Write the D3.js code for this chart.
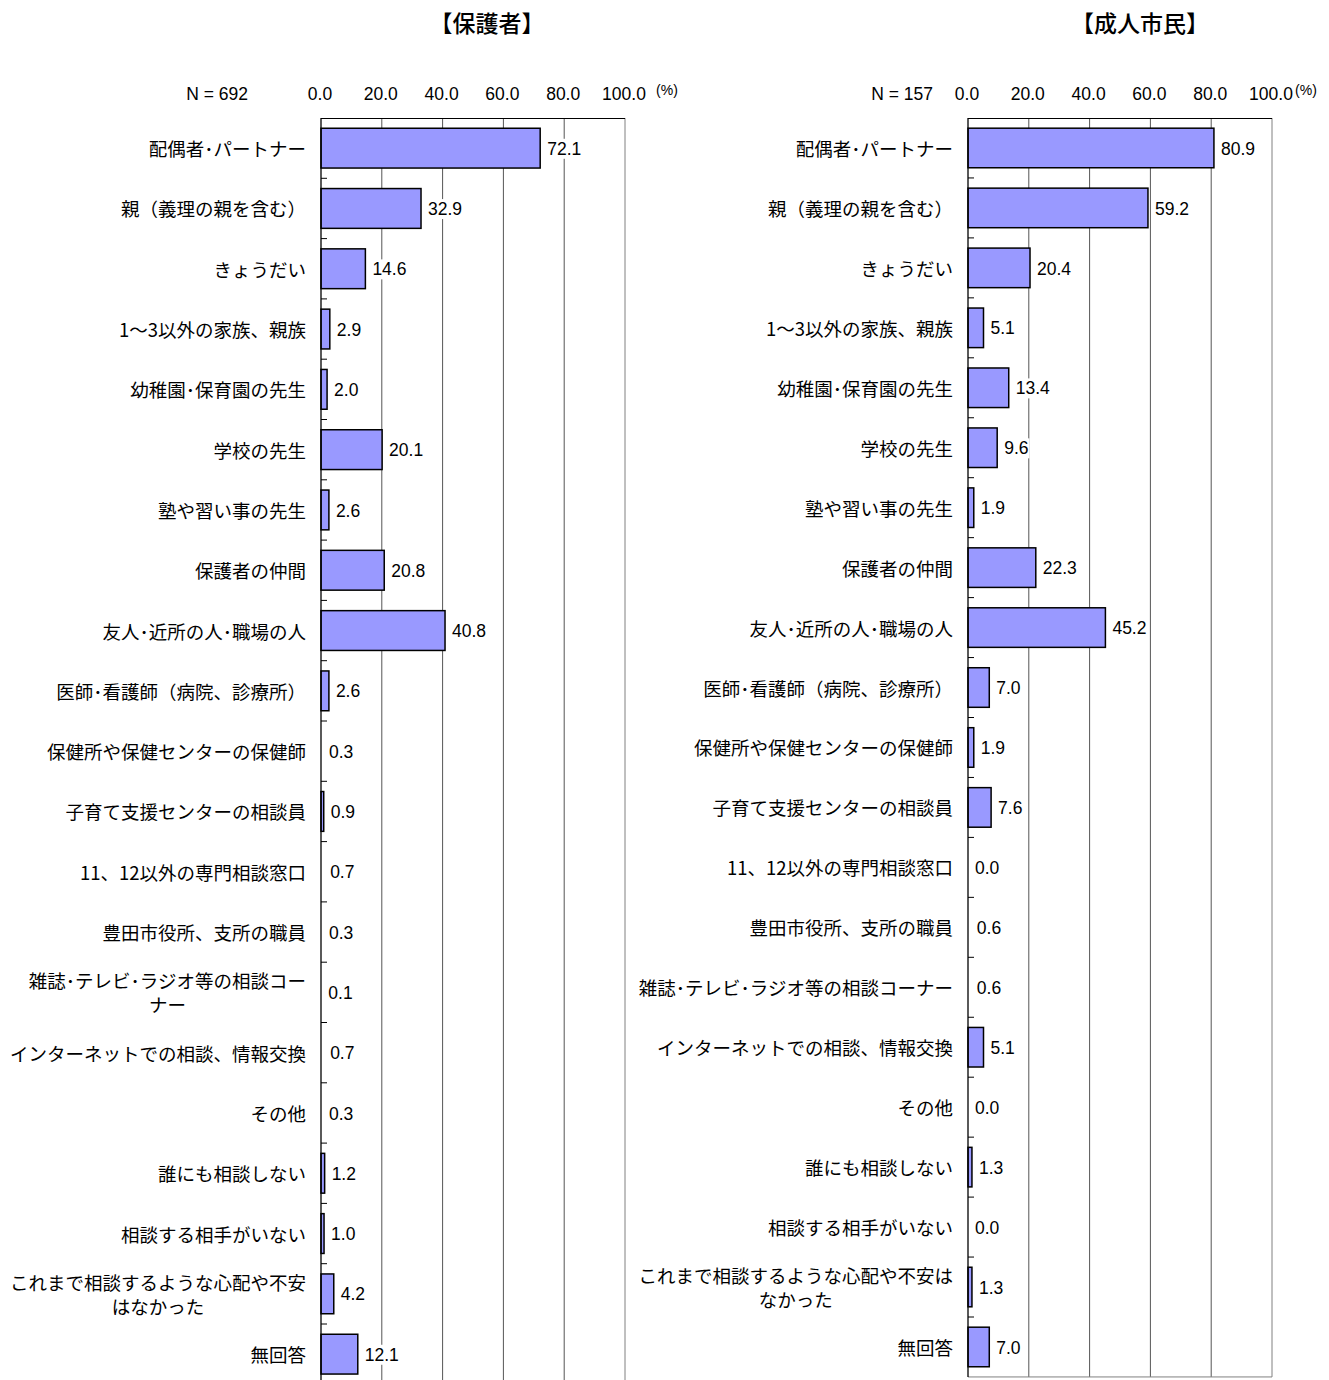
<!DOCTYPE html>
<html><head><meta charset="utf-8">
<script src="https://cdn.jsdelivr.net/npm/d3@7"></script>
<style>body{margin:0;background:#fff}svg{display:block}</style>
</head><body>
<svg id="c" width="1329" height="1380"></svg>
<script>
const categoriesLeft = [
  ["配偶者･パートナー"], ["親（義理の親を含む）"], ["きょうだい"], ["1～3以外の家族、親族"],
  ["幼稚園･保育園の先生"], ["学校の先生"], ["塾や習い事の先生"], ["保護者の仲間"],
  ["友人･近所の人･職場の人"], ["医師･看護師（病院、診療所）"], ["保健所や保健センターの保健師"],
  ["子育て支援センターの相談員"], ["11、12以外の専門相談窓口"], ["豊田市役所、支所の職員"],
  ["雑誌･テレビ･ラジオ等の相談コー", "ナー"], ["インターネットでの相談、情報交換"], ["その他"],
  ["誰にも相談しない"], ["相談する相手がいない"], ["これまで相談するような心配や不安", "はなかった"], ["無回答"]
];
const categoriesRight = [
  ["配偶者･パートナー"], ["親（義理の親を含む）"], ["きょうだい"], ["1～3以外の家族、親族"],
  ["幼稚園･保育園の先生"], ["学校の先生"], ["塾や習い事の先生"], ["保護者の仲間"],
  ["友人･近所の人･職場の人"], ["医師･看護師（病院、診療所）"], ["保健所や保健センターの保健師"],
  ["子育て支援センターの相談員"], ["11、12以外の専門相談窓口"], ["豊田市役所、支所の職員"],
  ["雑誌･テレビ･ラジオ等の相談コーナー"], ["インターネットでの相談、情報交換"], ["その他"],
  ["誰にも相談しない"], ["相談する相手がいない"], ["これまで相談するような心配や不安は", "なかった"], ["無回答"]
];
const valuesGuardian = [72.1, 32.9, 14.6, 2.9, 2.0, 20.1, 2.6, 20.8, 40.8, 2.6, 0.3, 0.9, 0.7, 0.3, 0.1, 0.7, 0.3, 1.2, 1.0, 4.2, 12.1];
const valuesCitizen  = [80.9, 59.2, 20.4, 5.1, 13.4, 9.6, 1.9, 22.3, 45.2, 7.0, 1.9, 7.6, 0.0, 0.6, 0.6, 5.1, 0.0, 1.3, 0.0, 1.3, 7.0];
const tickValues = [0, 20, 40, 60, 80, 100];
const titles = ["【保護者】", "【成人市民】"];
const sampleSizes = ["N = 692", "N = 157"];

const svg = d3.select("#c");
const JP = "'Noto Sans CJK JP','Noto Sans',sans-serif";
const NUM = "'Liberation Sans',Arial,sans-serif";

function panel(cfg) {
  const g = svg.append("g");
  const x = d3.scaleLinear().domain([0, 100]).range([cfg.x0, cfg.x1]);
  const idx = d3.range(cfg.values.length);
  const y = d3.scaleBand().domain(idx).range([118, 118 + cfg.band * idx.length]);
  const top = 118, bottom = 118 + cfg.band * idx.length;

  g.append("text").attr("x", cfg.titleX).attr("y", 26).attr("text-anchor", "middle")
    .attr("dominant-baseline", "middle").attr("font-family", JP).attr("font-size", 23)
    .attr("font-weight", 500).attr("fill", "#000").text(cfg.title);

  g.selectAll("line.grid").data(tickValues.slice(1)).join("line")
    .attr("x1", d => x(d)).attr("x2", d => x(d)).attr("y1", top).attr("y2", bottom)
    .attr("stroke", d => d === 100 ? "#808080" : "#555").attr("stroke-width", 1);
  g.append("line").attr("x1", x(0)).attr("x2", x(100)).attr("y1", top + 0.5).attr("y2", top + 0.5)
    .attr("stroke", "#000").attr("stroke-width", 1.2);
  if (cfg.bottomLine) g.append("line").attr("x1", x(0)).attr("x2", x(100)).attr("y1", bottom).attr("y2", bottom)
    .attr("stroke", "#808080").attr("stroke-width", 1);

  g.selectAll("text.tick").data(tickValues).join("text")
    .attr("x", d => x(d) - 1).attr("y", 95).attr("text-anchor", "middle").attr("dominant-baseline", "middle")
    .attr("font-family", NUM).attr("font-size", 17.5).attr("fill", "#000")
    .text(d => d3.format(".1f")(d));
  g.append("text").attr("x", cfg.pctX).attr("y", 91).attr("text-anchor", "middle").attr("dominant-baseline", "middle")
    .attr("font-family", NUM).attr("font-size", 14).text("(%)");
  g.append("text").attr("x", cfg.nX).attr("y", 95).attr("text-anchor", "end").attr("dominant-baseline", "middle")
    .attr("font-family", NUM).attr("font-size", 17.5).text(cfg.n);

  const bh = cfg.band * 0.66;
  g.selectAll("rect.bar").data(cfg.values).join("rect")
    .attr("x", x(0)).attr("y", (d, i) => y(i) + (y.bandwidth() - bh) / 2)
    .attr("width", d => d >= 0.8 ? x(d) - x(0) : 0).attr("height", bh)
    .attr("fill", "#9999ff").attr("stroke", d => d >= 0.8 ? "#000" : "none").attr("stroke-width", 1.5);

  const vl = g.selectAll("g.vl").data(cfg.values).join("g");
  vl.each(function (d, i) {
    const gg = d3.select(this);
    const t = gg.append("text").attr("x", x(d) + 7).attr("y", y(i) + y.bandwidth() / 2 + 2)
      .attr("dominant-baseline", "middle").attr("font-family", NUM).attr("font-size", 17.5)
      .attr("fill", "#000").text(d3.format(".1f")(d));
    const b = t.node().getBBox();
    gg.insert("rect", "text").attr("x", b.x - 1).attr("y", b.y).attr("width", b.width + 2).attr("height", b.height).attr("fill", "#fff");
  });

  g.append("line").attr("x1", x(0)).attr("x2", x(0)).attr("y1", top).attr("y2", bottom)
    .attr("stroke", "#000").attr("stroke-width", 1.3);
  g.selectAll("line.ct").data(d3.range(1, idx.length)).join("line")
    .attr("x1", x(0)).attr("x2", x(0) + 6).attr("y1", d => top + d * cfg.band).attr("y2", d => top + d * cfg.band)
    .attr("stroke", "#000").attr("stroke-width", 1);

  g.selectAll("text.cat").data(cfg.categories).join("text")
    .attr("font-family", JP).attr("font-size", 18.5).attr("fill", "#000")
    .each(function (lines, i) {
      const t = d3.select(this);
      const cy = y(i) + y.bandwidth() / 2 + 3;
      const lh = 24;
      if (lines.length === 1) {
        t.attr("x", x(0) - 15).attr("y", cy).attr("text-anchor", "end").attr("dominant-baseline", "middle").text(lines[0]);
      } else {
        t.attr("text-anchor", "middle").attr("dominant-baseline", "middle");
        lines.forEach((ln, k) => t.append("tspan").attr("y", cy + (k - (lines.length - 1) / 2) * lh).text(ln));
        const tmp = svg.append("text").attr("font-family", JP).attr("font-size", 18.5).text(lines[0]);
        const w = tmp.node().getComputedTextLength(); tmp.remove();
        t.selectAll("tspan").attr("x", x(0) - 15 - w / 2);
      }
    });
}

panel({ x0: 321, x1: 625, band: 60.3, values: valuesGuardian, categories: categoriesLeft,
  title: titles[0], titleX: 487, pctX: 667, nX: 248, n: sampleSizes[0], bottomLine: false });
panel({ x0: 968, x1: 1272, band: 59.95, values: valuesCitizen, categories: categoriesRight,
  title: titles[1], titleX: 1140, pctX: 1306, nX: 933, n: sampleSizes[1], bottomLine: true });
</script>
</body></html>
